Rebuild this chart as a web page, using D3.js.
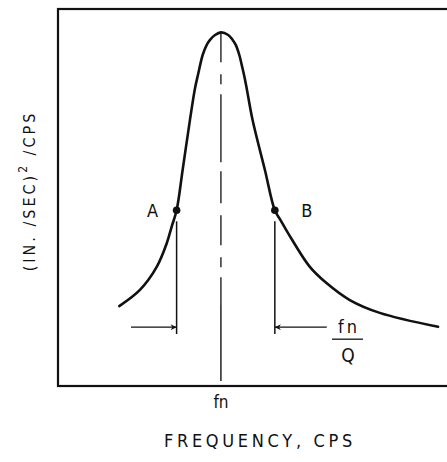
<!DOCTYPE html>
<html>
<head>
<meta charset="utf-8">
<script src="https://cdn.jsdelivr.net/npm/d3@7"></script>
<style>
  body { margin: 0; background: #fff; }
  svg { display: block; }
  text { font-family: 'DejaVu Sans Condensed', 'Liberation Sans Narrow', 'Liberation Sans', sans-serif; fill: #111; }
</style>
</head>
<body>
<svg id="chart" width="447" height="462"></svg>
<script>
// response curve (frequency units with fn = 100, psd in % of full scale)
const freq = [37.6, 50.3, 60.6, 66.7, 69.8, 72.8, 76.5, 81.0, 84.1, 85.9, 88.8, 91.3, 93.3, 96.4, 100,
  104.5, 107.2, 109.1, 111.3, 112.8, 114.2, 115.8, 119.4, 127.0, 133.1, 136.6, 141.3, 154.6, 164.8,
  179.1, 197.5, 233.3];
const psd = [21.2, 25.5, 31.6, 37.8, 42.3, 46.6, 57.3, 70.6, 79.0, 82.5, 87.8, 90.5, 91.8, 93.1, 93.8,
  93.1, 91.8, 90.5, 87.8, 85.1, 82.5, 79.0, 70.6, 57.3, 46.6, 44.0, 40.5, 31.6, 27.3,
  22.8, 19.4, 15.7];

// half power points
const pointNames = ['A', 'B'];
const pointFreq = [72.8, 133.1];
const pointPsd = [46.6, 46.6];

const fn = 100;
const fnPeak = 93.8;
const arrowLevel = 15.6;
const dropBottom = 13.8;
const arrowStart = [44.8, 165];

const xTickLabel = 'fn';
const xTitle = 'FREQUENCY, CPS';

const svg = d3.select('#chart');
const margin = { top: 9, right: -6, bottom: 76, left: 58 };
const width = +svg.attr('width') - margin.left - margin.right;
const height = +svg.attr('height') - margin.top - margin.bottom;

// 240 frequency units span the frame
const x = d3.scaleLinear().domain([0, 240]).range([margin.left, margin.left + 391]);
const y = d3.scaleLinear().domain([0, 100]).range([margin.top + height, margin.top]);

// arrow heads
const defs = svg.append('defs');
defs.append('marker')
  .attr('id', 'arr')
  .attr('viewBox', '0 0 10 10')
  .attr('refX', 10)
  .attr('refY', 5)
  .attr('markerWidth', 11)
  .attr('markerHeight', 6)
  .attr('markerUnits', 'userSpaceOnUse')
  .attr('orient', 'auto')
  .append('path')
  .attr('d', 'M0,0 L10,5 L0,10 L3,5 Z')
  .attr('fill', '#111');

// frame (right side runs off the page)
svg.append('rect')
  .attr('x', x(0))
  .attr('y', y(100))
  .attr('width', width + 2)
  .attr('height', y(0) - y(100))
  .attr('fill', 'none')
  .attr('stroke', '#111')
  .attr('stroke-width', 2.2);

// centre line at fn: dashed upper part, solid lower part
svg.append('line')
  .attr('x1', x(fn)).attr('x2', x(fn))
  .attr('y1', y(fnPeak)).attr('y2', y(21.5))
  .attr('stroke', '#111')
  .attr('stroke-width', 1.3)
  .attr('stroke-dasharray', '30,12,10,10,68,9,32,12');
svg.append('line')
  .attr('x1', x(fn)).attr('x2', x(fn))
  .attr('y1', y(21.5)).attr('y2', y(1.3))
  .attr('stroke', '#111')
  .attr('stroke-width', 1.4);

// curve
const line = d3.line()
  .x((d, i) => x(freq[i]))
  .y((d, i) => y(psd[i]))
  .curve(d3.curveCatmullRom.alpha(0.5));
svg.append('path')
  .datum(freq)
  .attr('fill', 'none')
  .attr('stroke', '#111')
  .attr('stroke-width', 2.6)
  .attr('stroke-linecap', 'round')
  .attr('d', line);

// drop lines, arrows, dots and letters at A and B
pointNames.forEach((name, i) => {
  svg.append('line')
    .attr('x1', x(pointFreq[i])).attr('x2', x(pointFreq[i]))
    .attr('y1', y(pointPsd[i]) + 11).attr('y2', y(dropBottom))
    .attr('stroke', '#111')
    .attr('stroke-width', 1.5);
  svg.append('line')
    .attr('x1', x(arrowStart[i])).attr('x2', x(pointFreq[i]))
    .attr('y1', y(arrowLevel)).attr('y2', y(arrowLevel))
    .attr('stroke', '#111')
    .attr('stroke-width', 1.3)
    .attr('marker-end', 'url(#arr)');
  svg.append('circle')
    .attr('cx', x(pointFreq[i]))
    .attr('cy', y(pointPsd[i]))
    .attr('r', 3.8)
    .attr('fill', '#111');
  svg.append('text')
    .attr('x', x(pointFreq[i]) + (i === 0 ? -24 : 32))
    .attr('y', y(pointPsd[i]) + 7)
    .attr('text-anchor', 'middle')
    .attr('font-size', 18)
    .text(name);
});

// fn / Q label
const fracX = 348;
const fracY = y(arrowLevel);
svg.append('text')
  .attr('x', fracX + 1).attr('y', fracY + 6)
  .attr('text-anchor', 'middle')
  .attr('font-size', 18)
  .attr('letter-spacing', 3)
  .text('fn');
svg.append('line')
  .attr('x1', fracX - 16).attr('x2', fracX + 15)
  .attr('y1', fracY + 12).attr('y2', fracY + 12)
  .attr('stroke', '#111')
  .attr('stroke-width', 1.3);
svg.append('text')
  .attr('x', fracX).attr('y', fracY + 35)
  .attr('text-anchor', 'middle')
  .attr('font-size', 19)
  .text('Q');

// x tick label and titles
svg.append('text')
  .attr('x', x(fn)).attr('y', 408)
  .attr('text-anchor', 'middle')
  .attr('font-size', 17)
  .text(xTickLabel);

svg.append('text')
  .attr('x', 260).attr('y', 447)
  .attr('text-anchor', 'middle')
  .attr('font-size', 18)
  .attr('letter-spacing', 3.7)
  .text(xTitle);

const yt = svg.append('text')
  .attr('transform', 'translate(35,191) rotate(-90)')
  .attr('text-anchor', 'middle')
  .attr('font-size', 16)
  .attr('letter-spacing', 3);
yt.append('tspan').text('(IN. /SEC)');
yt.append('tspan').attr('dy', -8).attr('font-size', 12).text('2');
yt.append('tspan').attr('dy', 8).text(' /CPS');
</script>
</body>
</html>
